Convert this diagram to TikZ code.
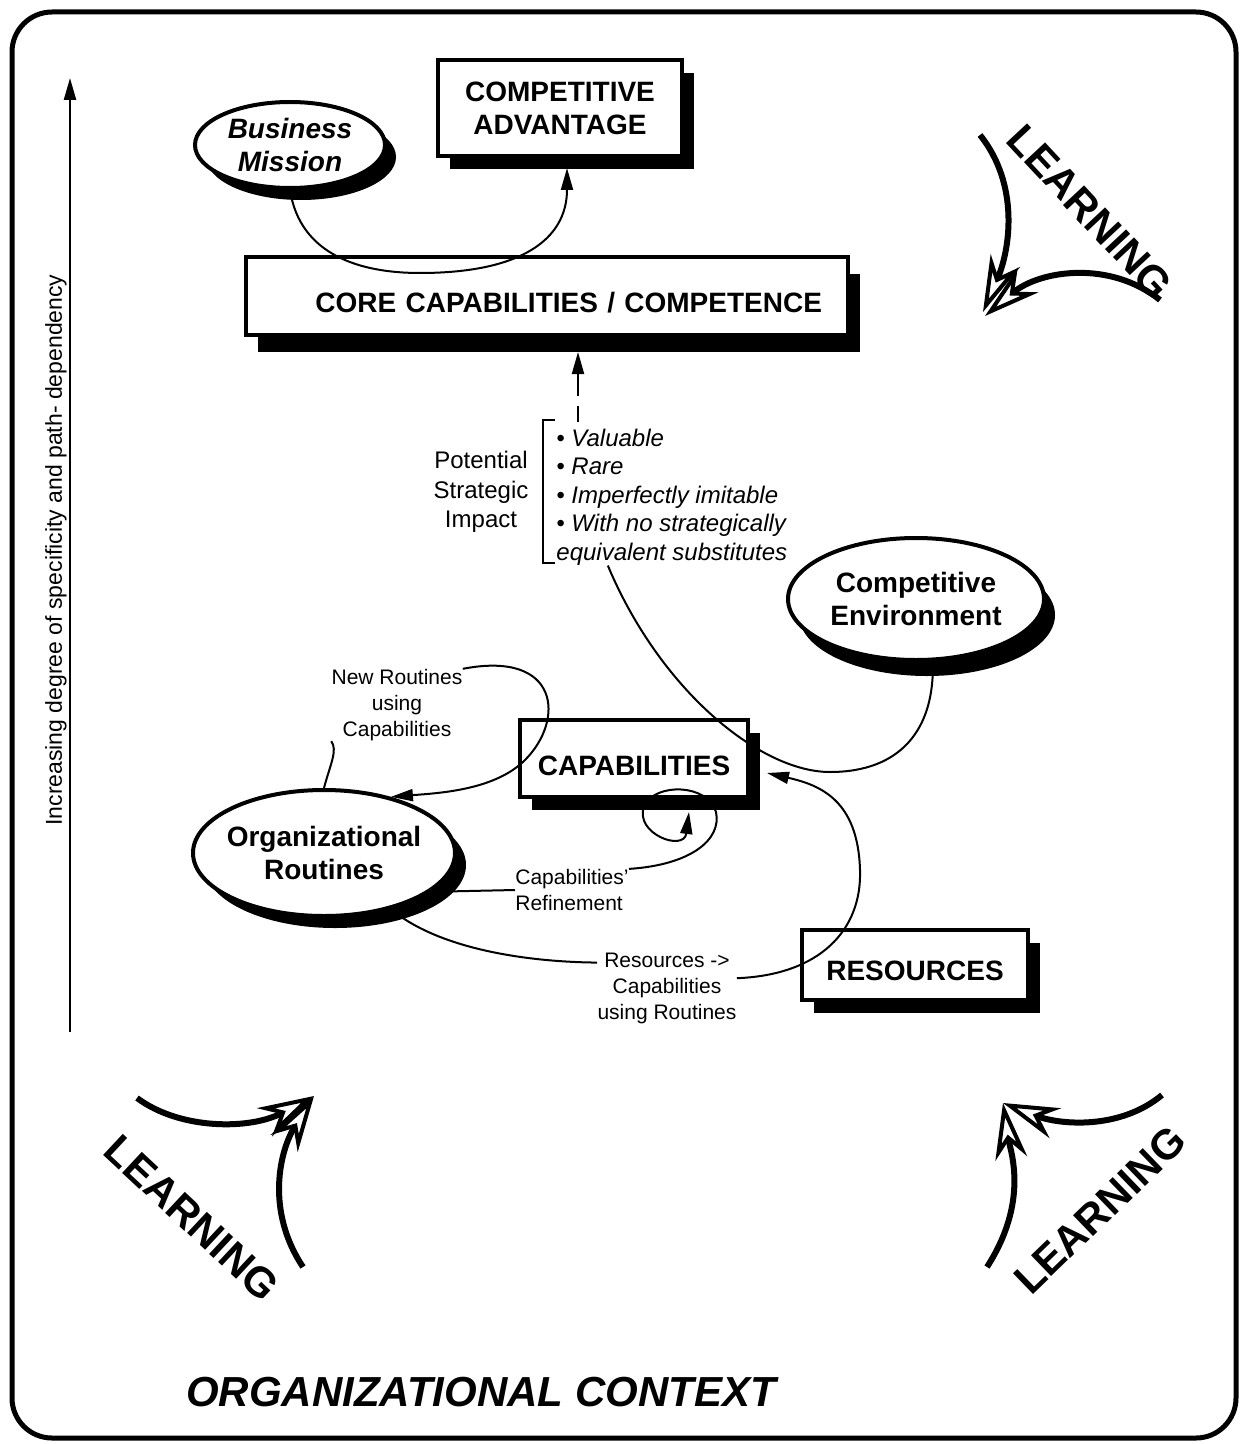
\documentclass[tikz,border=0pt]{standalone}
\usepackage{fontspec}
\setmainfont{Liberation Sans}
\usetikzlibrary{shapes.geometric,shadows,arrows.meta,calc}

\tikzset{
  box/.style={draw, line width=2pt, fill=white, inner sep=0pt, align=center,
    font=\bfseries\fontsize{14}{16.5}\selectfont,
    drop shadow={shadow xshift=6pt, shadow yshift=#1, fill=black, opacity=1}},
  box/.default=-6.5pt,
  low/.style={text height=#1, text depth=0pt},
  low/.default=17pt,
  oval/.style={ellipse, draw, line width=2pt, fill=white, inner ysep=0pt, inner xsep=-4pt,
    align=center, font=\bfseries\fontsize{14}{16.5}\selectfont,
    drop shadow={shadow xshift=5.5pt, shadow yshift=#1, fill=black, opacity=1}},
  oval/.default=-6pt,
  small/.style={inner sep=0pt, align=center, font=\fontsize{10.5}{13}\selectfont},
  link/.style={line width=1pt},
  tip/.style={-{Triangle[length=11pt,width=6pt]}},
  learn/.style={line width=3pt, -{Stealth[open, length=28pt, width=16pt, inset=9pt, line width=2pt]}},
  learntxt/.style={font=\bfseries\fontsize{21}{21}\selectfont, inner sep=0pt}
}

\begin{document}
\begin{tikzpicture}[x=0.5pt,y=-0.5pt]
\useasboundingbox (0,0) rectangle (1242,1444);
% frame
\draw[line width=2.5pt, rounded corners=20pt] (12,12) rectangle (1236,1438);

% axis
\coordinate (axisbot) at (70,1032);
\coordinate (axistop) at (70,78);
\draw[line width=1.2pt, tip] (axisbot) -- (axistop);
\node[rotate=90, inner sep=0pt, font=\fontsize{11.5}{13}\selectfont] (axistxt) at (56,550)
  {Increasing degree of specificity and path- dependency};

% boxes and ovals
\node[box, minimum width=122pt, minimum height=48pt] (compadv) at (560,108) {COMPETITIVE\\ADVANTAGE};
\node[oval, font=\bfseries\itshape\fontsize{14}{16.5}\selectfont,
  minimum width=95pt, minimum height=43pt] (mission) at (290,145) {Business\\Mission};
\node[box=-8.5pt, low=17pt, minimum width=301pt, minimum height=39pt, inner xsep=13pt,
  text width=275pt, align=right] (core) at (547,296) {CORE CAPABILITIES / COMPETENCE};
\node[oval=-8pt, minimum width=128pt, minimum height=61pt] (env) at (916,599) {Competitive\\Environment};
\node[box, low=17pt, minimum width=114pt, minimum height=38.5pt] (cap) at (634,758) {CAPABILITIES};
\node[oval, minimum width=131pt, minimum height=63pt] (org) at (324,853) {Organizational\\Routines};
\node[box, low=15pt, minimum width=113pt, minimum height=35pt] (res) at (915,965) {RESOURCES};

% strategic impact
\node[inner sep=0pt, align=center, font=\fontsize{12}{14.75}\selectfont] (psi) at (481,492)
  {Potential\\Strategic\\Impact};
\node[inner sep=0pt, anchor=west, align=left, font=\itshape\fontsize{12}{14.25}\selectfont] (crit) at (556,497)
  {\textbullet\ Valuable\\\textbullet\ Rare\\\textbullet\ Imperfectly imitable\\\textbullet\ With no strategically\\equivalent substitutes};
\draw[line width=1.2pt] (555,420) -- (543,420) -- (543,563) -- (555,563);
\coordinate (psitop) at (578,422);
\coordinate (coretip) at (578,352);
\draw[link, tip, dash pattern=on 8pt off 5pt on 40pt] (psitop) -- (coretip);

% labels on links
\node[small] (newr) at (397,705) {New Routines\\using\\Capabilities};
\node[small, align=left] (refine) at (572,890) {Capabilities'\\Refinement};
\node[small] (resr) at (667,988) {Resources ->\\Capabilities\\using Routines};

% links
\coordinate (catip) at (567,168);
\draw[link, tip] (mission.south) .. controls (300,255) and (360,273) .. (420,273)
  .. controls (520,273) and (567,240) .. (catip);
\draw[link] (org.north) .. controls (330,765) and (338,750) .. (newr.south west);
\draw[link, tip] (newr.north east) .. controls (560,650) and (565,720) .. (525,760)
  .. controls (495,790) and (440,793) .. (org.40);
\coordinate (refinetip) at (689,812);
\draw[link] (org.-20) -- (refine.west);
\draw[link, tip] (refine.north east) .. controls (690,865) and (722,840) .. (716,812)
  .. controls (708,784) and (656,782) .. (644,806)
  .. controls (634,834) and (684,852) .. (refinetip);
\coordinate (captip) at (767,773);
\draw[link] (org.-40) .. controls (440,950) and (530,962) .. (resr.160);
\draw[link, tip] (resr.8) .. controls (820,975) and (862,930) .. (860,870)
  .. controls (858,800) and (820,785) .. (captip);
\draw[link] (env.-75) .. controls (935,730) and (900,772) .. (830,772)
  .. controls (760,772) and (660,690) .. (crit.-133);

% learning
\node[learntxt, rotate=-47] (learntr) at (1090,212) {LEARNING};
\draw[learn] (980,135) .. controls (1020,185) and (1010,250) .. (983,312);
\draw[learn] (1160,300) .. controls (1110,260) and (1040,270) .. (985,316);
\node[learntxt, rotate=-43] (learnbl) at (192,1218) {LEARNING};
\draw[learn] (137,1098) .. controls (180,1130) and (250,1130) .. (314,1096);
\draw[learn] (303,1267) .. controls (265,1210) and (280,1150) .. (314,1096);
\node[learntxt, rotate=44] (learnbr) at (1100,1210) {LEARNING};
\draw[learn] (1162,1095) .. controls (1120,1130) and (1060,1125) .. (1003,1103);
\draw[learn] (987,1267) .. controls (1030,1200) and (1010,1150) .. (1003,1103);

% context
\node[inner sep=0pt, font=\bfseries\itshape\fontsize{21}{21}\selectfont] (orgctx) at (481,1392)
  {ORGANIZATIONAL CONTEXT};
\end{tikzpicture}
\end{document}
